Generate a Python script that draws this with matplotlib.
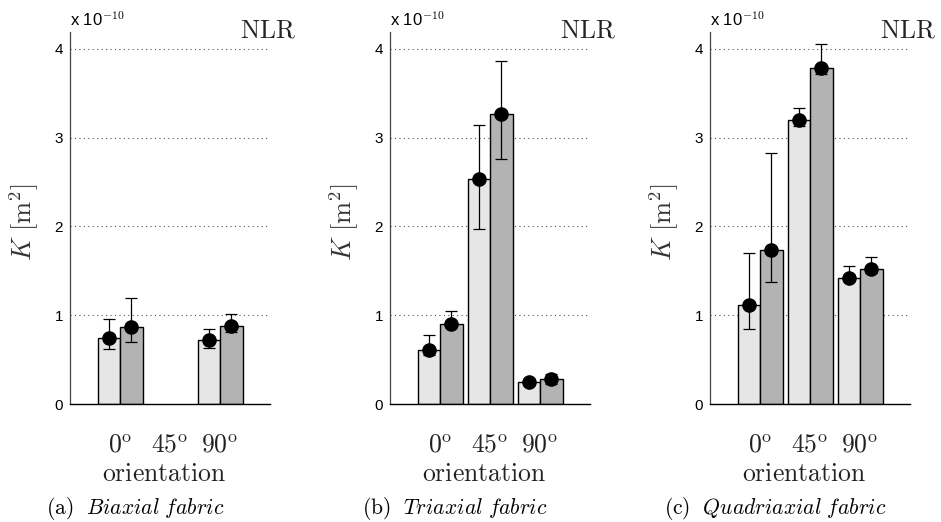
import numpy as np
import matplotlib
matplotlib.use("Agg")
import matplotlib.pyplot as plt
import matplotlib.transforms as mtransforms

plt.rcParams['mathtext.fontset'] = 'cm'
plt.rcParams['font.family'] = ['Liberation Sans', 'DejaVu Sans']

orientations = [r'$0^{\mathrm{o}}$', r'$45^{\mathrm{o}}$', r'$90^{\mathrm{o}}$']
captions = [r'$\mathrm{(a)}\ \ \mathit{Biaxial\ fabric}$',
            r'$\mathrm{(b)}\ \ \mathit{Triaxial\ fabric}$',
            r'$\mathrm{(c)}\ \ \mathit{Quadriaxial\ fabric}$']

# permeability (x 1e-10 m^2): light series / dark series, with error-bar bounds
biax_light = [0.74, np.nan, 0.72]
biax_light_lo = [0.62, np.nan, 0.63]
biax_light_hi = [0.96, np.nan, 0.85]
biax_dark = [0.865, np.nan, 0.88]
biax_dark_lo = [0.70, np.nan, 0.815]
biax_dark_hi = [1.19, np.nan, 1.01]

triax_light = [0.61, 2.53, 0.25]
triax_light_lo = [0.55, 1.97, 0.22]
triax_light_hi = [0.78, 3.14, 0.28]
triax_dark = [0.90, 3.27, 0.28]
triax_dark_lo = [0.87, 2.76, 0.23]
triax_dark_hi = [1.05, 3.86, 0.34]

quad_light = [1.11, 3.196, 1.42]
quad_light_lo = [0.84, 3.13, 1.40]
quad_light_hi = [1.705, 3.33, 1.55]
quad_dark = [1.735, 3.79, 1.52]
quad_dark_lo = [1.375, 3.72, 1.48]
quad_dark_hi = [2.83, 4.06, 1.66]

panels = [
    (biax_light, biax_light_lo, biax_light_hi, biax_dark, biax_dark_lo, biax_dark_hi),
    (triax_light, triax_light_lo, triax_light_hi, triax_dark, triax_dark_lo, triax_dark_hi),
    (quad_light, quad_light_lo, quad_light_hi, quad_dark, quad_dark_lo, quad_dark_hi),
]

W, H = 941, 522
fig = plt.figure(figsize=(W / 100, H / 100), dpi=100)

ax_left_px = [70, 390, 710]
ax_w_px = 200
ax_top_px, ax_bot_px = 32, 404

light_col = '#e6e6e6'
dark_col = '#b3b3b3'
bw = 0.45

for i, (l, llo, lhi, d, dlo, dhi) in enumerate(panels):
    x0 = ax_left_px[i]
    ax = fig.add_axes([x0 / W, 1 - ax_bot_px / H, ax_w_px / W, (ax_bot_px - ax_top_px) / H])
    x = np.arange(1, 4)
    l, llo, lhi = map(np.asarray, (l, llo, lhi))
    d, dlo, dhi = map(np.asarray, (d, dlo, dhi))

    ax.bar(x - bw / 2, np.nan_to_num(l), width=bw, color=light_col,
           edgecolor='k', linewidth=1.0, zorder=2)
    ax.bar(x + bw / 2, np.nan_to_num(d), width=bw, color=dark_col,
           edgecolor='k', linewidth=1.0, zorder=2)
    # hide zero-height bars
    for p in ax.patches:
        if p.get_height() == 0:
            p.set_visible(False)

    ax.errorbar(x - bw / 2, l, yerr=[l - llo, lhi - l], fmt='o', color='k',
                ms=9.5, capsize=4.5, elinewidth=0.9, capthick=0.9, zorder=3)
    ax.errorbar(x + bw / 2, d, yerr=[d - dlo, dhi - d], fmt='o', color='k',
                ms=9.5, capsize=4.5, elinewidth=0.9, capthick=0.9, zorder=3)

    ax.set_xlim(0, 4)
    ax.set_ylim(0, 4.19)
    ax.set_yticks([0, 1, 2, 3, 4])
    ax.set_yticklabels(['0', '1', '2', '3', '4'], fontsize=11)
    ax.set_xticks(x)
    ax.set_xticklabels(orientations, fontsize=18.5, color='#222222')
    shift = mtransforms.ScaledTranslation(-5 / 100, 0, fig.dpi_scale_trans)
    for lab in ax.get_xticklabels():
        lab.set_transform(lab.get_transform() + shift)
    ax.tick_params(axis='y', length=0, pad=5)
    ax.tick_params(axis='x', length=0, pad=21)
    ax.yaxis.grid(True, linestyle=(0, (1, 3)), color='#555555', linewidth=0.8)
    ax.set_axisbelow(True)
    for s in ('top', 'right'):
        ax.spines[s].set_visible(False)
    ax.spines['left'].set_color('#444444')
    ax.spines['left'].set_linewidth(0.9)
    ax.spines['bottom'].set_linewidth(1.0)

    fig.text((x0 + 94.5) / W, 1 - 474 / H, r'$\mathrm{orientation}$', fontsize=18.5,
             ha='center', va='center', color='#222222')

    # scale factor above the axis
    fig.text(x0 / W, 1 - 26 / H, r'x 10$^{-10}$', fontsize=12, ha='left', va='baseline')
    fig.text((x0 + 226) / W, 1 - 37 / H, r'$\mathrm{NLR}$', fontsize=18.5,
             ha='right', va='baseline', color='#222222')
    fig.text((x0 - 46) / W, 1 - 222 / H, r'$K\ [\mathrm{m}^2]$', fontsize=19,
             rotation=90, ha='center', va='center', color='#333333')
    fig.text((x0 + 65) / W, 1 - 514 / H, captions[i], fontsize=15.5,
             ha='center', va='baseline')

fig.savefig('out.png', dpi=100)
